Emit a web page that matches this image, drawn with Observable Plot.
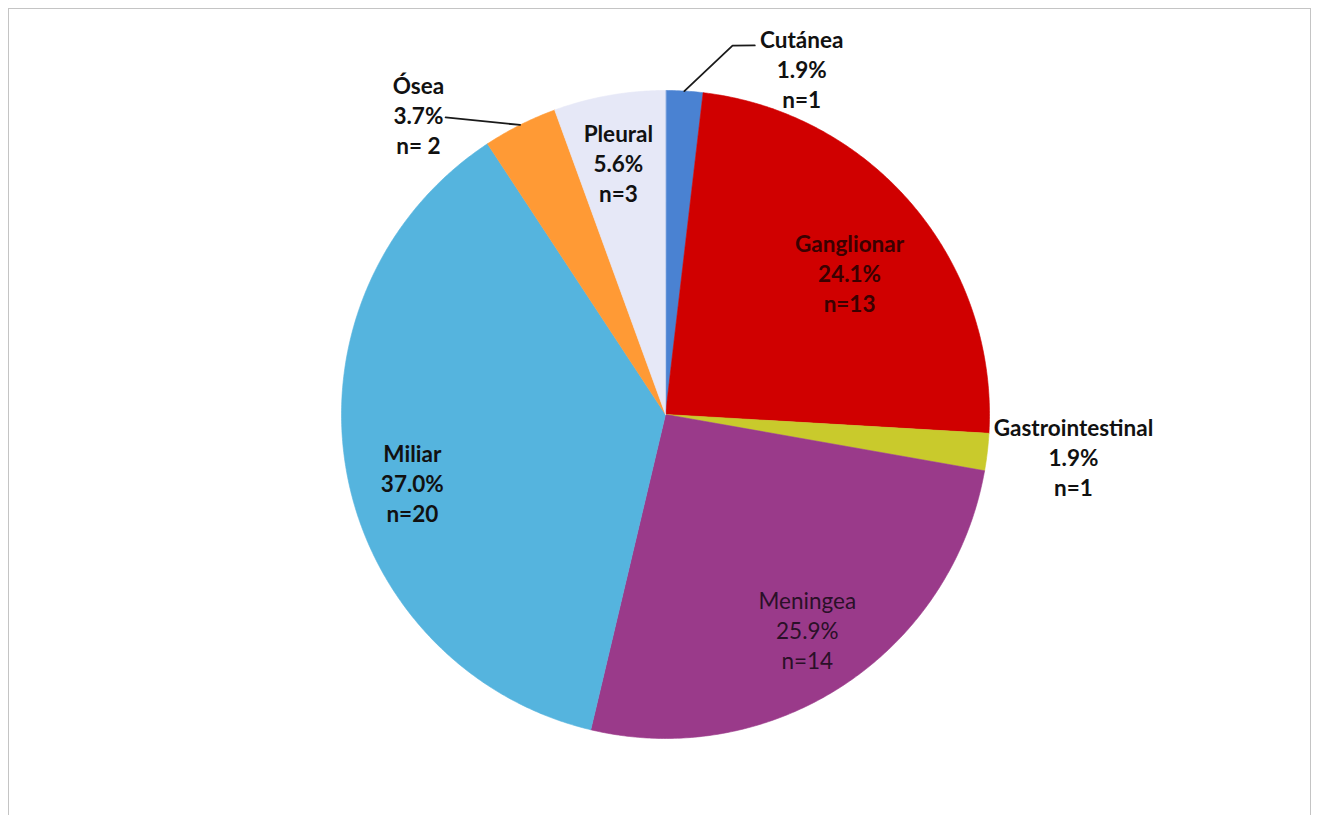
<!DOCTYPE html>
<html>
<head>
<meta charset="utf-8">
<script src="https://cdn.jsdelivr.net/npm/d3@7"></script>
<script src="https://cdn.jsdelivr.net/npm/@observablehq/plot@0.6"></script>
<style>
  html, body { margin: 0; padding: 0; background: #fff; }
  #wrap { position: relative; width: 1319px; height: 815px; overflow: hidden; }
  #frame { position: absolute; left: 8px; top: 8px; width: 1303px; height: 830px;
           border: 1.5px solid #c4c4c4; box-sizing: border-box; }
  #chart { position: absolute; left: 0; top: 0; }
</style>
</head>
<body>
<div id="wrap"><div id="frame"></div><div id="chart"></div></div>
<script>
// ---- data ----
const categories = ["Cutánea", "Ganglionar", "Gastrointestinal", "Meningea", "Miliar", "Ósea", "Pleural"];
const counts = [1, 13, 1, 14, 20, 2, 3];
const percentLabels = ["1.9%", "24.1%", "1.9%", "25.9%", "37.0%", "3.7%", "5.6%"];
const nLabels = ["n=1", "n=13", "n=1", "n=14", "n=20", "n= 2", "n=3"];

// ---- styling / annotation placement ----
const colors = ["#4a82d2", "#d00000", "#c9ca2c", "#9a3a8a", "#55b4de", "#ff9a35", "#e6e8f7"];
const labelAngle = [21.5, 52.4, 95.9, 146.6, 255.0, 320.5, 349.4];   // degrees, clockwise from top
const labelRadius = [1.147, 0.717, 1.266, 0.795, 0.809, 1.199, 0.791]; // in pie radii
const leaders = {
  "Cutánea": [[null, 1.0], [10.3, 1.157], [13.6, 1.172]],
  "Ósea": [[323.5, 1.141], [null, 1.0]]
};

const rad = Math.PI / 180;
const records = categories.map((c, i) => ({cat: c, count: counts[i], i}));
const arcs = d3.pie().sort(null).value(d => d.count)(records);

// polygon points for each slice (unit circle space)
const slicePts = [];
for (const a of arcs) {
  slicePts.push({cat: a.data.cat, x: 0, y: 0});
  const steps = Math.max(2, Math.ceil((a.endAngle - a.startAngle) / (0.5 * rad)));
  for (let k = 0; k <= steps; k++) {
    const t = a.startAngle + (a.endAngle - a.startAngle) * k / steps;
    slicePts.push({cat: a.data.cat, x: Math.sin(t), y: Math.cos(t)});
  }
}

const labels = arcs.map((a, i) => {
  const ang = labelAngle[i] * rad;
  return {
    cat: a.data.cat,
    x: labelRadius[i] * Math.sin(ang),
    y: labelRadius[i] * Math.cos(ang),
    text: `${a.data.cat}\n${percentLabels[i]}\n${nLabels[i]}`
  };
});

const leaderPts = [];
for (const [cat, pts] of Object.entries(leaders)) {
  const a = arcs.find(d => d.data.cat === cat);
  const mid = (a.startAngle + a.endAngle) / 2;
  for (const [deg, r] of pts) {
    const t = deg == null ? mid : deg * rad;
    leaderPts.push({cat, x: r * Math.sin(t), y: r * Math.cos(t)});
  }
}

const font = "Lato, 'Open Sans', sans-serif";
const boldCats = ["Cutánea", "Gastrointestinal", "Miliar", "Ósea", "Pleural"];
const fs = 22.5;
const lh = 1.33;

const chart = Plot.plot({
  width: 1319,
  height: 815,
  margin: 0,
  style: {background: "transparent", fontFamily: font},
  x: {domain: [-1, 1], range: [341, 989], axis: null},
  y: {domain: [-1, 1], range: [738, 90], axis: null},
  color: {domain: categories, range: colors},
  marks: [
    Plot.line(slicePts, {x: "x", y: "y", z: "cat", fill: "cat", stroke: "cat",
      strokeWidth: 0.6, curve: "linear-closed"}),
    Plot.line(leaderPts, {x: "x", y: "y", z: "cat", stroke: "#1a1a1a", strokeWidth: 1.8}),
    Plot.text(labels.filter(d => boldCats.includes(d.cat)), {x: "x", y: "y", text: "text",
      fontSize: fs, fontWeight: "bold", fill: "#111", lineHeight: lh, lineAnchor: "middle"}),
    Plot.text(labels.filter(d => d.cat === "Ganglionar"), {x: "x", y: "y", text: "text",
      fontSize: fs, fontWeight: "bold", fill: "#3a0000", lineHeight: lh, lineAnchor: "middle"}),
    Plot.text(labels.filter(d => d.cat === "Meningea"), {x: "x", y: "y", text: "text",
      fontSize: fs, fontWeight: "normal", fill: "#2a1028", lineHeight: lh, lineAnchor: "middle"})
  ]
});
document.getElementById("chart").appendChild(chart);
</script>
</body>
</html>
